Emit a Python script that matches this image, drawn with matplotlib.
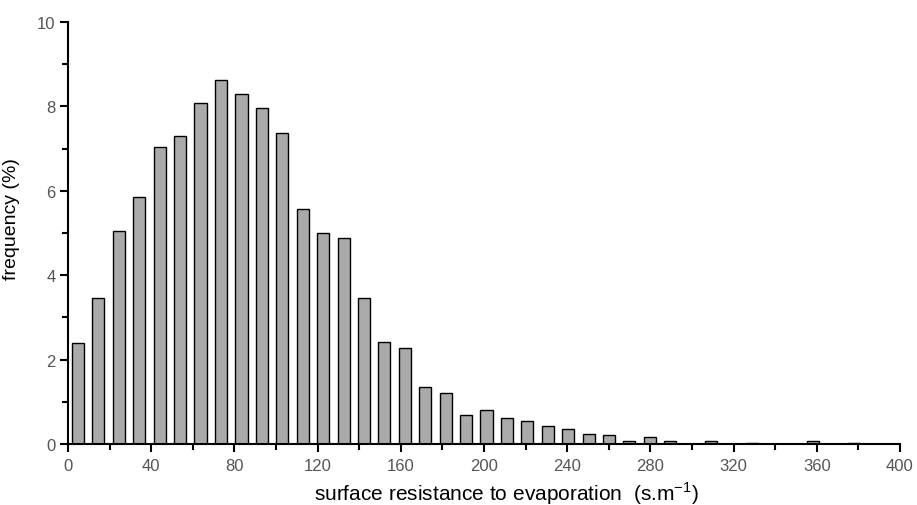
import matplotlib
matplotlib.use("Agg")
import matplotlib.pyplot as plt
from matplotlib.ticker import MultipleLocator

# bar centres (s.m-1)
bin_centres = [4.8, 14.6, 24.4, 34.3, 44.1, 53.9, 63.7, 73.5, 83.4, 93.2,
               103.0, 112.8, 122.6, 132.5, 142.3, 152.1, 161.9, 171.7, 181.6, 191.4,
               201.2, 211.0, 220.8, 230.7, 240.5, 250.3, 260.1, 269.9, 279.8, 289.6,
               299.4, 309.2, 319.0, 328.9, 338.7, 348.5, 358.3, 368.1, 378.0]
# frequency (%)
frequency = [2.39, 3.45, 5.04, 5.86, 7.03, 7.30, 8.08, 8.63, 8.29, 7.96,
             7.37, 5.57, 5.00, 4.89, 3.45, 2.41, 2.27, 1.36, 1.22, 0.69,
             0.80, 0.62, 0.54, 0.42, 0.35, 0.24, 0.21, 0.07, 0.17, 0.08,
             0.0, 0.08, 0.0, 0.03, 0.0, 0.0, 0.06, 0.0, 0.03]
x_ticks = [0, 40, 80, 120, 160, 200, 240, 280, 320, 360, 400]
y_ticks = [0, 2, 4, 6, 8, 10]

plt.rcParams['font.family'] = ['Liberation Sans', 'DejaVu Sans']

fig = plt.figure(figsize=(9.17, 5.06), dpi=100)
ax = fig.add_axes([68/917, 1-445/506, (900-68)/917, (445-23)/506])

ax.bar(bin_centres, frequency, width=5.8, color='#aaaaaa',
       edgecolor='black', linewidth=1.0, zorder=2)

ax.set_xlim(0, 400)
ax.set_ylim(0, 10)
ax.set_xticks(x_ticks)
ax.set_yticks(y_ticks)
ax.xaxis.set_minor_locator(MultipleLocator(20))
ax.yaxis.set_minor_locator(MultipleLocator(1))
ax.spines['top'].set_visible(False)
ax.spines['right'].set_visible(False)
for s in ('left', 'bottom'):
    ax.spines[s].set_linewidth(1.5)
ax.tick_params(axis='both', which='major', direction='out', length=6, width=1.5,
               labelsize=12, labelcolor='#555555')
ax.tick_params(axis='x', which='major', pad=4)
ax.tick_params(axis='y', which='major', pad=3)
ax.tick_params(axis='both', which='minor', direction='out', length=4, width=1.5)

ax.set_xlabel('surface resistance to evaporation  (s.m$^{\\mathregular{-1}}$)',
              fontsize=15)
ax.xaxis.set_label_coords(0.527, -0.083)
ax.set_ylabel('frequency (%)', fontsize=14)
ax.yaxis.set_label_coords(-0.058, 0.535)

fig.savefig('out.png', dpi=100)
